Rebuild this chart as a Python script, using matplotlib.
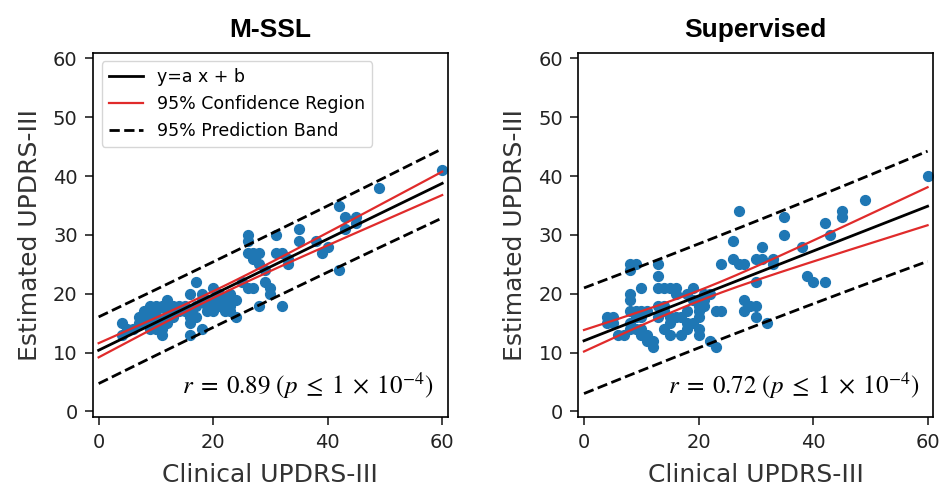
import numpy as np
import matplotlib
matplotlib.use("Agg")
import matplotlib.pyplot as plt

plt.rcParams['mathtext.fontset'] = 'stix'

titles = ["M-SSL", "Supervised"]
r_labels = ["0.89", "0.72"]
x_label = "Clinical UPDRS-III"
y_label = "Estimated UPDRS-III"
legend_labels = ["y=a x + b", "95% Confidence Region", "95% Prediction Band"]
x_ticks = [0, 20, 40, 60]
y_ticks = [0, 10, 20, 30, 40, 50, 60]

mssl_pts = [(4,15),(4,13),(5,14),(6,14),(7,15),(7,16),(8,15),(8,16),(8,17),(9,18),(9,16),(9,15),
            (9,14),(10,18),(10,17),(10,16),(10,15),(10,14),(11,18),(11,14),(11,13),(11,15),(12,19),
            (12,17),(12,16),(12,15),(13,18),(13,17),(13,16),(14,18),(14,17),(15,17),(15,18),(16,20),
            (16,17),(16,16),(16,15),(16,13),(17,22),(17,18),(17,16),(18,20),(18,19),(18,14),(19,19),
            (19,18),(19,17),(20,21),(20,19),(20,18),(20,17),(21,20),(21,19),(21,18),(22,17),(22,19),
            (23,20),(23,18),(23,17),(24,19),(24,16),(25,22),(26,30),(26,29),(26,27),(26,21),(27,27),
            (27,26),(27,21),(28,27),(28,25),(28,18),(29,22),(29,24),(30,21),(30,20),(31,30),(31,27),
            (32,27),(32,18),(33,26),(33,25),(35,31),(35,29),(38,29),(39,27),(40,28),(42,35),(42,24),
            (43,33),(43,31),(45,33),(45,32),(49,38),(60,41)]
sup_pts = [(4,16),(5,15),(4,15),(5,16),(6,13),(7,13),(8,24),(8,25),(8,20),(8,19),(8,17),(8,15),
           (8,14),(9,25),(9,17),(9,16),(9,14),(10,21),(10,17),(10,16),(10,14),(10,13),(11,17),(11,13),
           (11,12),(12,11),(12,12),(13,25),(13,23),(13,21),(13,18),(13,16),(14,21),(14,18),(14,17),
           (14,14),(15,21),(15,16),(15,15),(15,13),(16,20),(16,21),(16,16),(17,16),(17,13),(18,20),
           (18,15),(18,14),(18,17),(19,21),(19,19),(19,15),(20,19),(20,18),(20,17),(20,16),(20,14),
           (20,13),(21,18),(21,20),(21,19),(22,20),(22,12),(23,17),(23,11),(24,17),(24,25),(26,29),
           (26,26),(27,34),(27,25),(28,25),(28,19),(28,17),(29,18),(30,26),(30,22),(30,18),(30,16),
           (31,28),(31,26),(32,15),(33,26),(33,25),(35,33),(35,30),(38,28),(39,23),(40,22),(42,32),
           (42,22),(43,30),(45,34),(45,33),(49,36),(60,40)]

datasets = [mssl_pts, sup_pts]

fig = plt.figure(figsize=(9.48, 4.87), dpi=100)
axes_pos = [[0.098, 0.143, 0.3745, 0.749], [0.610, 0.143, 0.3745, 0.749]]
t_val = 1.985

for i, pts in enumerate(datasets):
    ax = fig.add_axes(axes_pos[i])
    arr = np.array(pts, dtype=float)
    x, y = arr[:, 0], arr[:, 1]
    n = len(x)
    a, b = np.polyfit(x, y, 1)
    res = y - (a * x + b)
    s = np.sqrt(np.sum(res ** 2) / (n - 2))
    xm = x.mean()
    sxx = np.sum((x - xm) ** 2)
    xs = np.linspace(0, 60, 200)
    yh = a * xs + b
    ci = t_val * s * np.sqrt(1 / n + (xs - xm) ** 2 / sxx)
    pi = t_val * s * np.sqrt(1 + 1 / n + (xs - xm) ** 2 / sxx)

    ax.scatter(x, y, s=50, color='#1f77b4', zorder=2)
    ax.plot(xs, yh, color='black', lw=2, label=legend_labels[0], zorder=3)
    ax.plot(xs, yh + ci, color='#e02b2b', lw=1.6, label=legend_labels[1], zorder=3)
    ax.plot(xs, yh - ci, color='#e02b2b', lw=1.6, zorder=3)
    ax.plot(xs, yh + pi, color='black', lw=2, ls='--', label=legend_labels[2], zorder=3)
    ax.plot(xs, yh - pi, color='black', lw=2, ls='--', zorder=3)

    ax.set_xlim(-1, 61)
    ax.set_ylim(-1, 61)
    ax.set_xticks(x_ticks)
    ax.set_yticks(y_ticks)
    for sp in ax.spines.values():
        sp.set_linewidth(1.2)
    ax.tick_params(labelsize=14, length=5.5, width=1.2, pad=5.5, colors='#222222', labelcolor='#222222')
    ax.set_xlabel(x_label, fontsize=18, labelpad=8, color='#333333')
    ax.set_ylabel(y_label, fontsize=18, labelpad=8, color='#333333')
    ax.set_title(titles[i], fontsize=19, fontweight='bold', family='Liberation Sans', pad=11)
    ax.text(0.96, 0.045,
            r"$r\;=\;%s\ (p\;\leq\;1\;\times\;10^{-4})$" % r_labels[i],
            transform=ax.transAxes, ha='right', va='bottom', fontsize=18)
    if i == 0:
        ax.legend(loc='upper left', fontsize=12.5)

fig.savefig("out.png", dpi=100)
